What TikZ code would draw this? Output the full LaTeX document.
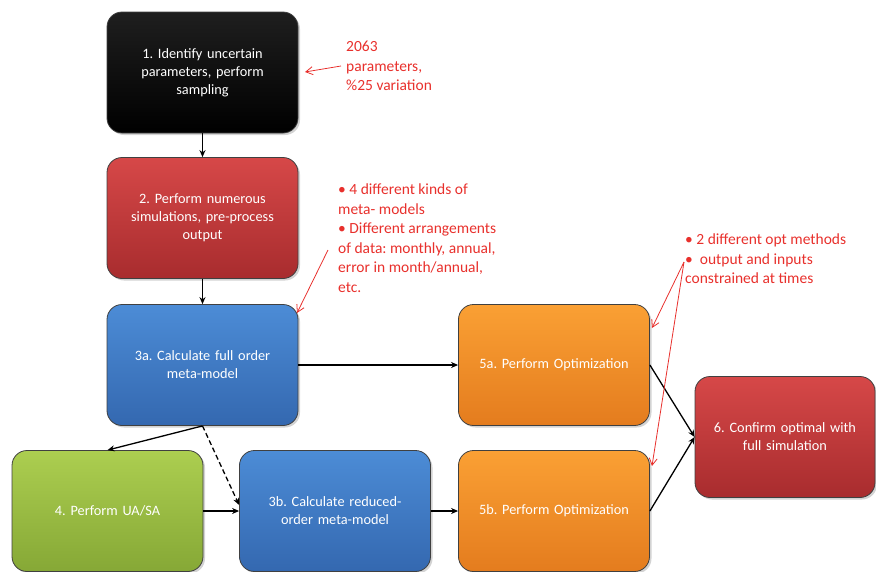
\documentclass[tikz,border=0pt]{standalone}
\usepackage{fontspec}
\setmainfont{Carlito}
\usetikzlibrary{arrows.meta,shadows,shadings}
\definecolor{annot}{RGB}{232,48,44}
\tikzset{
  box/.style={rectangle, rounded corners=15pt, minimum width=191pt, minimum height=121pt,
    draw=black!75, line width=0.8pt, text=white, align=center, text width=175pt,
    font=\fontsize{14.3}{18}\selectfont, drop shadow={opacity=0.35, shadow xshift=2pt, shadow yshift=-2pt}},
  blackbox/.style={box, top color=black!88, bottom color=black},
  redbox/.style={box, top color={rgb,255:red,214;green,72;blue,72}, bottom color={rgb,255:red,168;green,44;blue,46}},
  bluebox/.style={box, top color={rgb,255:red,76;green,140;blue,214}, bottom color={rgb,255:red,52;green,104;blue,176}},
  orangebox/.style={box, top color={rgb,255:red,250;green,160;blue,52}, bottom color={rgb,255:red,228;green,124;blue,30}},
  greenbox/.style={box, top color={rgb,255:red,172;green,206;blue,80}, bottom color={rgb,255:red,134;green,168;blue,54}},
  arr/.style={-{Stealth[length=7pt,width=6pt]}, line width=1.3pt, black},
  dasharr/.style={arr, dash pattern=on 5pt off 3pt},
  redarr/.style={-{Straight Barb[length=7pt,width=8pt]}, line width=0.8pt, annot},
  note/.style={anchor=north west, align=left, text=annot, inner sep=0pt,
    font=\fontsize{15.5}{19.5}\selectfont},
}
\frenchspacing
\begin{document}
\begin{tikzpicture}[x=1pt,y=-1pt]
\useasboundingbox (0,0) rectangle (876,571);
\node[blackbox] (b1) at (202.5,72.5) {1. Identify uncertain\\parameters, perform\\sampling};
\node[redbox] (b2) at (202.5,218) {2. Perform numerous\\simulations, pre-process\\output};
\node[bluebox] (b3a) at (202.5,365) {3a. Calculate full order\\meta-model};
\node[orangebox] (b5a) at (554,365) {5a. Perform Optimization};
\node[redbox, minimum width=180pt, text width=165pt] (b6) at (785,437) {6. Confirm optimal with\\full simulation};
\node[greenbox] (b4) at (107.5,511) {4. Perform UA/SA};
\node[bluebox] (b3b) at (335,511) {3b. Calculate reduced-\\order meta-model};
\node[orangebox] (b5b) at (554,511) {5b. Perform Optimization};

\draw[arr] (b1.south) -- (b2.north);
\draw[arr] (b2.south) -- (b3a.north);
\draw[arr] (b3a.east) -- (b5a.west);
\draw[arr] (b3a.south) -- (b4.north);
\draw[dasharr] (b3a.south) -- ([yshift=6pt]b3b.west);
\draw[arr] (b4.east) -- (b3b.west);
\draw[arr] (b3b.east) -- (b5b.west);
\draw[arr] (b5a.east) -- (b6.west);
\draw[arr] (b5b.east) -- (b6.west);

\node[note] (t1) at (346,41) {2063\\parameters,\\\%25 variation};
\node[note] (t2) at (338,184) {• 4 different kinds of\\meta- models\\• Different arrangements\\of data: monthly, annual,\\error in month/annual,\\etc.};
\node[note] (t3) at (685,234) {• 2 different opt methods\\•\ \ output and inputs\\constrained at times};

\coordinate (s1) at (341,66);
\coordinate (e1) at (305,72);
\coordinate (s2) at (328,250);
\coordinate (e2) at (297,313);
\coordinate (s3) at (684,262);
\coordinate (e3a) at (652,328);
\coordinate (e3b) at (652,466);
\draw[redarr] (s1) -- (e1);
\draw[redarr] (s2) -- (e2);
\draw[redarr] (s3) -- (e3a);
\draw[redarr] (s3) -- (e3b);
\end{tikzpicture}
\end{document}
